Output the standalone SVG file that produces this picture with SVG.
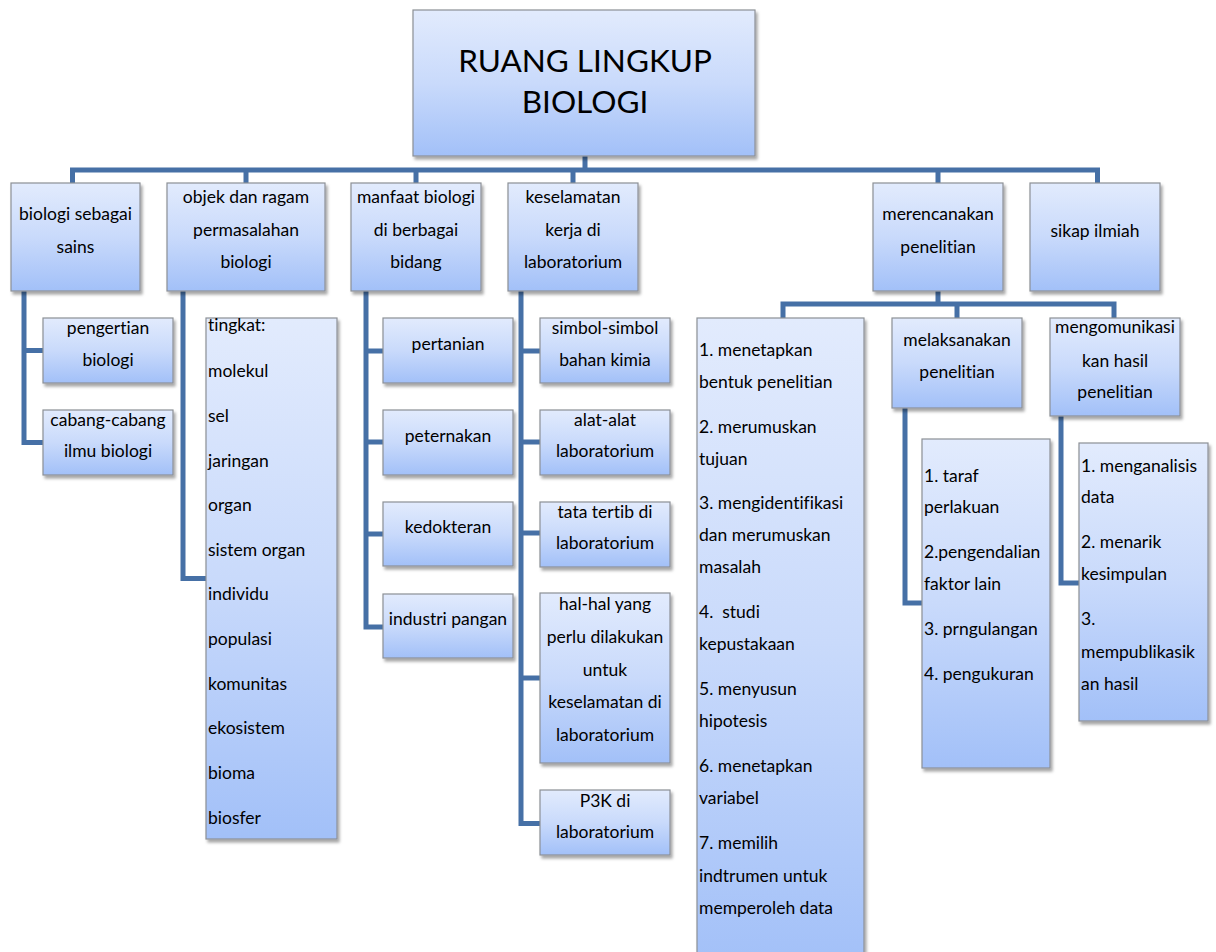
<svg xmlns="http://www.w3.org/2000/svg" width="1216" height="952" viewBox="0 0 1216 952">
<defs>
<linearGradient id="g" x1="0" y1="0" x2="0" y2="1">
<stop offset="0" stop-color="#e2ebfd"/>
<stop offset="0.5" stop-color="#c9dafb"/>
<stop offset="1" stop-color="#a2c0f8"/>
</linearGradient>
<filter id="sh" x="-10%" y="-10%" width="125%" height="125%">
<feDropShadow dx="2" dy="3" stdDeviation="1.5" flood-color="#000" flood-opacity="0.35"/>
</filter>
</defs>
<style>
text{font-variant-ligatures:none;font-feature-settings:"liga" 0}
.b{fill:url(#g);stroke:#8c9096;stroke-width:1.2;filter:url(#sh)}
.t{font-family:Lato,"Open Sans",sans-serif;font-size:17.5px;fill:#000;text-anchor:middle}
.l{font-family:Lato,"Open Sans",sans-serif;font-size:17.5px;fill:#000}
.r{font-family:Lato,"Open Sans",sans-serif;font-size:31.5px;fill:#000;text-anchor:middle}
.c{fill:none;stroke:#4670a6;stroke-width:5;stroke-linejoin:miter;stroke-linecap:butt}
</style>
<rect width="1216" height="952" fill="#fff"/>
<g id="connectors">
<path class="c" d="M585,156V170M72.5,183V170H1097.5V183M246,170V183M416,170V183M573,170V183M938,170V183"/>
<path class="c" d="M24,291V442.5H43M24,350.5H43"/>
<path class="c" d="M183,291V578.5H206"/>
<path class="c" d="M366,291V627H383M366,351H383M366,442H383M366,534H383"/>
<path class="c" d="M521,291V823.5H540M521,351H540M521,442H540M521,533H540M521,678H540"/>
<path class="c" d="M938,291V304M783,318V304H1114V318M957,304V318"/>
<path class="c" d="M905,408V603H922"/>
<path class="c" d="M1061,416V583H1079"/>
</g>
<g id="root">
<rect class="b" x="413" y="10" width="342" height="146"/>
<text class="r" x="585" y="72">RUANG LINGKUP</text>
<text class="r" x="585" y="113">BIOLOGI</text>
</g>
<g id="n1">
<rect class="b" x="11" y="183" width="129" height="108"/>
<text class="t" x="75.5" y="220">biologi sebagai</text>
<text class="t" x="75.5" y="253">sains</text>
</g>
<g id="n2">
<rect class="b" x="167" y="183" width="158" height="108"/>
<text class="t" x="246" y="203">objek dan ragam</text>
<text class="t" x="246" y="236">permasalahan</text>
<text class="t" x="246" y="268">biologi</text>
</g>
<g id="n3">
<rect class="b" x="351" y="183" width="130" height="108"/>
<text class="t" x="416" y="203">manfaat biologi</text>
<text class="t" x="416" y="236">di berbagai</text>
<text class="t" x="416" y="268">bidang</text>
</g>
<g id="n4">
<rect class="b" x="508" y="183" width="130" height="108"/>
<text class="t" x="573" y="203">keselamatan</text>
<text class="t" x="573" y="236">kerja di</text>
<text class="t" x="573" y="268">laboratorium</text>
</g>
<g id="n5">
<rect class="b" x="873" y="183" width="130" height="108"/>
<text class="t" x="938" y="220">merencanakan</text>
<text class="t" x="938" y="253">penelitian</text>
</g>
<g id="n6">
<rect class="b" x="1030" y="183" width="130" height="108"/>
<text class="t" x="1095" y="237">sikap ilmiah</text>
</g>
<g id="n1a">
<rect class="b" x="43" y="318" width="130" height="65"/>
<text class="t" x="108" y="334">pengertian</text>
<text class="t" x="108" y="366">biologi</text>
</g>
<g id="n1b">
<rect class="b" x="43" y="410" width="130" height="65"/>
<text class="t" x="108" y="426">cabang-cabang</text>
<text class="t" x="108" y="457">ilmu biologi</text>
</g>
<g id="n2a">
<rect class="b" x="206" y="318" width="131" height="521"/>
<text class="l" x="208" y="331">tingkat:</text>
<text class="l" x="208" y="377">molekul</text>
<text class="l" x="208" y="422">sel</text>
<text class="l" x="208" y="467">jaringan</text>
<text class="l" x="208" y="511">organ</text>
<text class="l" x="208" y="556">sistem organ</text>
<text class="l" x="208" y="600">individu</text>
<text class="l" x="208" y="645">populasi</text>
<text class="l" x="208" y="690">komunitas</text>
<text class="l" x="208" y="734">ekosistem</text>
<text class="l" x="208" y="779">bioma</text>
<text class="l" x="208" y="824">biosfer</text>
</g>
<g id="n3a">
<rect class="b" x="383" y="318" width="130" height="65"/>
<text class="t" x="448" y="350">pertanian</text>
</g>
<g id="n3b">
<rect class="b" x="383" y="410" width="130" height="65"/>
<text class="t" x="448" y="442">peternakan</text>
</g>
<g id="n3c">
<rect class="b" x="383" y="502" width="130" height="64"/>
<text class="t" x="448" y="533">kedokteran</text>
</g>
<g id="n3d">
<rect class="b" x="383" y="594" width="130" height="64"/>
<text class="t" x="448" y="625">industri pangan</text>
</g>
<g id="n4a">
<rect class="b" x="540" y="318" width="130" height="65"/>
<text class="t" x="605" y="334">simbol-simbol</text>
<text class="t" x="605" y="366">bahan kimia</text>
</g>
<g id="n4b">
<rect class="b" x="540" y="410" width="130" height="65"/>
<text class="t" x="605" y="426">alat-alat</text>
<text class="t" x="605" y="457">laboratorium</text>
</g>
<g id="n4c">
<rect class="b" x="540" y="502" width="130" height="65"/>
<text class="t" x="605" y="518">tata tertib di</text>
<text class="t" x="605" y="549">laboratorium</text>
</g>
<g id="n4d">
<rect class="b" x="540" y="593" width="130" height="170"/>
<text class="t" x="605" y="610">hal-hal yang</text>
<text class="t" x="605" y="643">perlu dilakukan</text>
<text class="t" x="605" y="676">untuk</text>
<text class="t" x="605" y="708">keselamatan di</text>
<text class="t" x="605" y="741">laboratorium</text>
</g>
<g id="n4e">
<rect class="b" x="540" y="790" width="130" height="65"/>
<text class="t" x="605" y="807">P3K di</text>
<text class="t" x="605" y="838">laboratorium</text>
</g>
<g id="n5a">
<rect class="b" x="697" y="318" width="167" height="650"/>
<text class="l" x="699" y="356">1. menetapkan</text>
<text class="l" x="699" y="388">bentuk penelitian</text>
<text class="l" x="699" y="433">2. merumuskan</text>
<text class="l" x="699" y="465">tujuan</text>
<text class="l" x="699" y="509">3. mengidentifikasi</text>
<text class="l" x="699" y="541">dan merumuskan</text>
<text class="l" x="699" y="573">masalah</text>
<text class="l" x="699" y="618" xml:space="preserve">4.  studi</text>
<text class="l" x="699" y="650">kepustakaan</text>
<text class="l" x="699" y="695">5. menyusun</text>
<text class="l" x="699" y="727">hipotesis</text>
<text class="l" x="699" y="772">6. menetapkan</text>
<text class="l" x="699" y="804">variabel</text>
<text class="l" x="699" y="849">7. memilih</text>
<text class="l" x="699" y="882">indtrumen untuk</text>
<text class="l" x="699" y="914">memperoleh data</text>
</g>
<g id="n5b">
<rect class="b" x="892" y="318" width="130" height="90"/>
<text class="t" x="957" y="346">melaksanakan</text>
<text class="t" x="957" y="378">penelitian</text>
</g>
<g id="n5c">
<rect class="b" x="1050" y="318" width="130" height="98"/>
<text class="t" x="1115" y="333">mengomunikasi</text>
<text class="t" x="1115" y="367">kan hasil</text>
<text class="t" x="1115" y="398">penelitian</text>
</g>
<g id="n5b1">
<rect class="b" x="922" y="439" width="128" height="329"/>
<text class="l" x="924" y="482">1. taraf</text>
<text class="l" x="924" y="513">perlakuan</text>
<text class="l" x="924" y="558">2.pengendalian</text>
<text class="l" x="924" y="590">faktor lain</text>
<text class="l" x="924" y="635">3. prngulangan</text>
<text class="l" x="924" y="680">4. pengukuran</text>
</g>
<g id="n5c1">
<rect class="b" x="1079" y="443" width="129" height="278"/>
<text class="l" x="1081" y="472">1. menganalisis</text>
<text class="l" x="1081" y="503">data</text>
<text class="l" x="1081" y="548">2. menarik</text>
<text class="l" x="1081" y="580">kesimpulan</text>
<text class="l" x="1081" y="625">3.</text>
<text class="l" x="1081" y="658">mempublikasik</text>
<text class="l" x="1081" y="690">an hasil</text>
</g>
</svg>
